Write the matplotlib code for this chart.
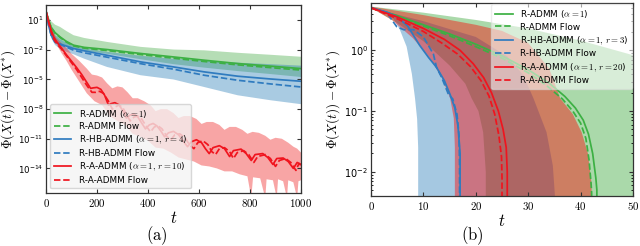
import matplotlib
matplotlib.use("Agg")
import matplotlib.pyplot as plt
import numpy as np
from matplotlib.ticker import LogFormatterMathtext, NullLocator, FuncFormatter, LogLocator

plt.rcParams['mathtext.fontset'] = 'cm'
plt.rcParams['font.family'] = ['DejaVu Sans']

# colours
c_green = '#3cb043'
c_blue = '#2f7bbf'
c_red = '#f0141e'

# ---------------- panel (a): values as log10 -----------------
t_a = [0, 10, 20, 35, 55, 80, 108, 150, 239, 371, 500, 620, 752, 880, 1000]
green_alg_a = [1.9, 1.0, 0.3, -0.25, -0.69, -1.15, -1.53, -1.75, -1.97, -2.37, -2.72, -3.05, -3.39, -3.65, -3.9]
green_flow_a = [1.9, 1.0, 0.25, -0.3, -0.75, -1.22, -1.6, -1.83, -2.07, -2.48, -2.85, -3.18, -3.52, -3.8, -4.05]
green_hi_a = [1.9, 1.3, 0.9, 0.55, 0.32, -0.1, -0.52, -0.8, -1.2, -1.7, -1.97, -2.05, -2.3, -2.5, -2.7]
green_lo_a = [1.9, 0.6, -0.3, -0.9, -1.3, -1.6, -1.9, -2.1, -2.4, -2.95, -3.45, -3.8, -4.15, -4.45, -4.75]
blue_alg_a = [1.9, 0.5, -0.5, -1.2, -1.4, -1.62, -1.87, -2.1, -2.55, -3.22, -3.73, -4.23, -4.67, -4.95, -5.18]
blue_flow_a = [1.9, 0.5, -0.5, -1.2, -1.45, -1.72, -2.04, -2.3, -2.74, -3.4, -3.96, -4.57, -5.08, -5.45, -5.76]
blue_hi_a = [1.9, 0.9, 0.2, -0.5, -0.9, -1.3, -1.6, -1.85, -2.2, -2.6, -2.9, -3.1, -3.3, -3.45, -3.6]
blue_lo_a = [1.9, 0.2, -0.8, -1.5, -1.9, -2.2, -2.45, -2.9, -3.73, -4.57, -5.0, -5.76, -6.6, -7.1, -7.5]

red_alg_t = [0, 10, 20, 30, 40, 50, 60, 80, 100, 120, 140, 160, 175, 185, 200, 215, 230, 245, 255, 270,
             285, 300, 315, 330, 345, 360, 375, 390, 405, 420, 435, 450, 465, 480, 500, 520, 540, 555,
             570, 590, 610, 625, 640, 655, 680, 700, 720, 735, 765, 785, 805, 820, 850, 870, 890, 905,
             930, 950, 970, 985, 1000]
red_alg_a = [1.9, 0.9, 0.0, -0.7, -1.1, -1.45, -1.8, -2.5, -3.15, -3.8, -4.5, -5.3, -5.9, -5.85, -5.8,
             -6.0, -6.6, -7.6, -7.45, -7.35, -7.55, -8.1, -8.9, -8.6, -8.5, -8.8, -9.4, -10.0, -9.6,
             -9.45, -9.7, -10.2, -10.8, -10.4, -10.25, -10.6, -11.3, -11.8, -11.3, -11.1, -11.4, -12.0,
             -12.5, -11.9, -11.7, -12.0, -12.8, -12.2, -12.05, -12.5, -13.2, -12.6, -12.5, -12.9, -13.6,
             -13.0, -12.95, -13.3, -14.0, -13.4, -13.6]
red_flow_t = [0, 10, 20, 30, 40, 50, 60, 80, 100, 120, 140, 160, 180, 195, 210, 225, 245, 260, 270, 285,
              300, 315, 330, 345, 360, 375, 395, 410, 425, 440, 455, 475, 490, 505, 525, 545, 565, 580,
              595, 615, 635, 650, 665, 680, 700, 720, 735, 750, 775, 795, 815, 830, 860, 880, 900, 915,
              940, 960, 980, 992, 1000]
red_flow_a = [1.9, 0.8, -0.2, -0.9, -1.3, -1.6, -1.9, -2.6, -3.3, -4.0, -4.8, -5.6, -6.3, -6.3, -6.2,
              -6.4, -7.2, -8.0, -7.8, -7.6, -7.8, -8.5, -9.2, -8.8, -8.7, -9.0, -9.8, -10.3, -9.8, -9.7,
              -10.0, -10.8, -11.1, -10.6, -10.5, -10.9, -11.7, -12.0, -11.4, -11.2, -11.6, -12.3, -12.6,
              -12.0, -11.9, -12.3, -13.0, -12.4, -12.2, -12.6, -13.4, -12.8, -12.6, -13.0, -13.8, -13.2,
              -13.0, -13.4, -14.2, -13.5, -13.7]
red_hi_t = [0, 20, 40, 60, 80, 100, 130, 160, 180, 200, 220, 240, 260, 280, 300, 320, 340, 360, 385, 410,
            430, 450, 475, 500, 520, 540, 565, 590, 610, 630, 655, 680, 700, 720, 745, 770, 790, 810, 835,
            860, 880, 900, 925, 950, 970, 985, 1000]
red_hi_a = [1.9, 0.3, -0.8, -1.3, -1.8, -2.4, -3.1, -3.9, -4.5, -4.6, -4.8, -5.4, -5.9, -5.7, -5.8, -6.3,
            -6.9, -6.9, -7.2, -7.6, -8.2, -8.0, -8.0, -8.4, -8.9, -8.7, -8.7, -9.0, -9.5, -9.3, -9.3, -9.6,
            -10.1, -9.8, -9.8, -10.1, -10.5, -10.3, -10.4, -10.7, -11.1, -10.9, -11.0, -11.4, -11.8, -12.0,
            -12.4]
red_lo_t = [0, 20, 40, 60, 80, 100, 130, 160, 190, 220, 250, 280, 310, 340, 370, 400, 430, 460, 490, 520,
            550, 580, 610, 640, 670, 700, 730, 760, 790, 805, 812, 840, 860, 865, 890, 905, 910, 930, 945,
            950, 970, 985, 990, 1000]
red_lo_a = [1.9, -0.4, -1.4, -2.3, -3.1, -4.0, -5.2, -6.4, -7.2, -7.6, -8.7, -9.2, -9.6, -10.5, -10.8,
            -11.2, -11.9, -12.0, -12.4, -12.9, -13.1, -13.3, -13.7, -13.8, -14.0, -14.3, -14.3, -14.6,
            -14.8, -17, -14.9, -15.0, -17, -15.1, -15.2, -17, -15.1, -15.3, -17, -15.2, -15.4, -17, -15.3,
            -15.2]

# ---------------- panel (b): values as log10 -----------------
green_alg_t = [0, 5, 10, 15, 20, 25, 30, 34, 37, 39, 40.5, 41.5, 42.3, 42.9, 43.1, 43.1]
green_alg_b = [0.70, 0.57, 0.42, 0.27, 0.10, -0.09, -0.32, -0.54, -0.76, -0.95, -1.15, -1.38, -1.7, -2.1, -2.3, -4]
green_flow_t = [0, 5, 10, 15, 20, 25, 30, 33.5, 36.5, 38.5, 40, 41, 41.6, 42.0, 42.1, 42.1]
green_flow_b = [0.70, 0.56, 0.40, 0.24, 0.06, -0.13, -0.37, -0.58, -0.8, -1.0, -1.2, -1.45, -1.8, -2.2, -2.35, -4]
red_alg_tb = [0, 5, 10, 14, 17, 19.5, 21.5, 23, 24.3, 25.2, 25.8, 26, 26]
red_alg_b = [0.70, 0.55, 0.36, 0.18, 0.0, -0.22, -0.45, -0.7, -1.0, -1.3, -1.6, -2.0, -4]
red_flow_tb = [0, 5, 10, 13.5, 16.5, 19, 21, 22.5, 23.6, 24.4, 24.9, 25, 25]
red_flow_b = [0.70, 0.52, 0.31, 0.12, -0.06, -0.27, -0.5, -0.75, -1.05, -1.4, -1.75, -2.1, -4]
blue_alg_tb = [0, 3, 5, 7, 9.3, 11, 12.5, 14, 15.1, 16, 16.6, 17, 17]
blue_alg_b = [0.70, 0.63, 0.55, 0.40, 0.08, -0.12, -0.28, -0.5, -0.73, -0.95, -1.25, -1.7, -4]
blue_flow_tb = [0, 3, 4.9, 6.2, 8.1, 10, 11.9, 12.5, 13.5, 14.8, 15.6, 16.4, 16.8, 16.9, 16.9]
blue_flow_b = [0.70, 0.62, 0.39, 0.34, 0.34, 0.22, -0.06, -0.28, -0.45, -0.73, -0.8, -1.05, -1.4, -1.9, -4]

green_lo_tb = [0, 5, 10, 15, 18, 19.2, 20.5, 21.4, 21.9, 21.9]
green_lo_b = [0.70, 0.45, 0.15, -0.25, -0.55, -0.79, -1.0, -1.35, -2.0, -4]
green_hi_tb = [0, 10, 20, 30, 40, 50, 50]
green_hi_b = [0.72, 0.62, 0.50, 0.36, 0.16, -0.08, -4]
red_lo_tb = [0, 4, 8, 11, 13.5, 15.1, 15.8, 16, 16]
red_lo_b = [0.70, 0.5, 0.2, -0.1, -0.45, -0.79, -1.12, -1.6, -4]
red_hi_tb = [0, 10, 20, 25, 30, 34, 36.1, 38.5, 40.2, 41.4, 42.1, 42.1]
red_hi_b = [0.72, 0.58, 0.42, 0.32, 0.12, -0.3, -0.79, -1.05, -1.35, -1.7, -2.2, -4]
blue_lo_tb = [0, 2, 3.6, 5.5, 6.8, 7.8, 8.4, 8.8, 9.0, 9.0]
blue_lo_b = [0.70, 0.66, 0.62, 0.34, 0.06, -0.39, -0.79, -1.13, -1.6, -4]
blue_hi_tb = [0, 10, 20, 26, 29, 31, 33.5, 34.7, 35.1, 35.1]
blue_hi_b = [0.70, 0.48, 0.22, -0.1, -0.4, -0.79, -1.35, -1.9, -2.4, -4]

labels_a = [r'R-ADMM ($\alpha = 1$)', 'R-ADMM Flow',
            r'R-HB-ADMM ($\alpha = 1,\, r = 4$)', 'R-HB-ADMM Flow',
            r'R-A-ADMM ($\alpha = 1,\, r = 10$)', 'R-A-ADMM Flow']
labels_b = [r'R-ADMM ($\alpha = 1$)', 'R-ADMM Flow',
            r'R-HB-ADMM ($\alpha = 1,\, r = 3$)', 'R-HB-ADMM Flow',
            r'R-A-ADMM ($\alpha = 1,\, r = 20$)', 'R-A-ADMM Flow']


def band(ax, t_lo, lo, t_hi, hi, color, alpha):
    # one polygon: upper curve forward, lower curve back
    xs = list(t_hi) + list(t_lo)[::-1]
    ys = list(10.0 ** np.array(hi)) + list(10.0 ** np.array(lo))[::-1]
    ax.fill(xs, ys, color=color, alpha=alpha, lw=0)


def style(ax, label_x, ysize):
    ax.tick_params(direction='in', top=True, right=True, labelsize=7.8,
                   length=3, width=0.8, color='#333333', pad=2.5)
    ax.tick_params(axis='y', labelsize=ysize, pad=2)
    ax.tick_params(which='minor', direction='in', top=True, right=True, length=1.5, width=0.6)
    for s in ax.spines.values():
        s.set_color('#333333')
        s.set_linewidth(0.9)
    ax.xaxis.set_major_formatter(FuncFormatter(lambda v, p: r'$%d$' % v))
    ax.set_xlabel(r'$t$', fontsize=12, labelpad=0)
    ax.set_ylabel(r'$\Phi(X(t)) - \Phi(X^{*})$', fontsize=9.5)
    ax.yaxis.set_label_coords(label_x, 0.5)


leg_kw = dict(fontsize=6.4, labelspacing=0.3, handlelength=2.0, handletextpad=0.8,
              borderpad=0.4)

fig = plt.figure(figsize=(6.4, 2.46), dpi=100)

# ---- (a)
ax = fig.add_axes([0.0719, 0.215, 0.3984, 0.764])
band(ax, t_a, green_lo_a, t_a, green_hi_a, '#2ca02c', 0.35)
band(ax, t_a, blue_lo_a, t_a, blue_hi_a, '#1f77b4', 0.38)
band(ax, red_lo_t, red_lo_a, red_hi_t, red_hi_a, '#ee2020', 0.4)
lw = 1.25
ax.plot(t_a, 10.0 ** np.array(green_alg_a), color=c_green, lw=lw, label=labels_a[0])
ax.plot(t_a, 10.0 ** np.array(green_flow_a), color=c_green, lw=lw, ls='--', label=labels_a[1])
ax.plot(t_a, 10.0 ** np.array(blue_alg_a), color=c_blue, lw=lw, label=labels_a[2])
ax.plot(t_a, 10.0 ** np.array(blue_flow_a), color=c_blue, lw=lw, ls='--', label=labels_a[3])
ax.plot(red_alg_t, 10.0 ** np.array(red_alg_a), color=c_red, lw=lw, label=labels_a[4])
ax.plot(red_flow_t, 10.0 ** np.array(red_flow_a), color=c_red, lw=lw, ls='--', label=labels_a[5])
ax.set_yscale('log')
ax.set_xlim(0, 1000)
ax.set_ylim(10 ** -16.5, 10 ** 2.52)
ax.set_yticks([1e1, 1e-2, 1e-5, 1e-8, 1e-11, 1e-14])
ax.yaxis.set_major_formatter(LogFormatterMathtext())
ax.yaxis.set_minor_locator(NullLocator())
ax.set_xticks([0, 200, 400, 600, 800, 1000])
style(ax, -0.113, 6.2)
ax.legend(loc='lower left', bbox_to_anchor=(0.016, 0.025), borderaxespad=0,
          framealpha=0.75, facecolor='#f4f4f4', edgecolor='#cccccc', **leg_kw)
fig.text(157 / 640, 1 - 224 / 246, r'$(\mathrm{a})$', ha='center', va='top', fontsize=12)

# ---- (b)
bx = fig.add_axes([0.5797, 0.203, 0.4094, 0.785])
band(bx, green_lo_tb, green_lo_b, green_hi_tb, green_hi_b, '#2ca02c', 0.4)
band(bx, blue_lo_tb, blue_lo_b, blue_hi_tb, blue_hi_b, '#1f77b4', 0.4)
band(bx, red_lo_tb, red_lo_b, red_hi_tb, red_hi_b, '#ff0000', 0.42)
bx.plot(green_alg_t, 10.0 ** np.array(green_alg_b), color=c_green, lw=lw, label=labels_b[0])
bx.plot(green_flow_t, 10.0 ** np.array(green_flow_b), color=c_green, lw=lw, ls='--', label=labels_b[1])
bx.plot(blue_alg_tb, 10.0 ** np.array(blue_alg_b), color=c_blue, lw=lw, label=labels_b[2])
bx.plot(blue_flow_tb, 10.0 ** np.array(blue_flow_b), color=c_blue, lw=lw, ls='--', label=labels_b[3])
bx.plot(red_alg_tb, 10.0 ** np.array(red_alg_b), color=c_red, lw=lw, label=labels_b[4])
bx.plot(red_flow_tb, 10.0 ** np.array(red_flow_b), color=c_red, lw=lw, ls='--', label=labels_b[5])
bx.set_yscale('log')
bx.set_xlim(0, 50)
bx.set_ylim(10 ** -2.4, 10 ** 0.78)
bx.set_yticks([1e-2, 1e-1, 1e0])
bx.yaxis.set_major_formatter(LogFormatterMathtext())
bx.yaxis.set_minor_locator(LogLocator(subs=np.arange(2, 10)))
bx.yaxis.set_minor_formatter(FuncFormatter(lambda v, p: ''))
bx.set_xticks([0, 10, 20, 30, 40, 50])
style(bx, -0.11, 7)
bx.legend(loc='upper right', borderaxespad=0.15, framealpha=0.55, facecolor='white',
          edgecolor='#dddddd', **leg_kw)
fig.text(472 / 640, 1 - 224 / 246, r'$(\mathrm{b})$', ha='center', va='top', fontsize=12)

fig.savefig('out.png', dpi=100)
